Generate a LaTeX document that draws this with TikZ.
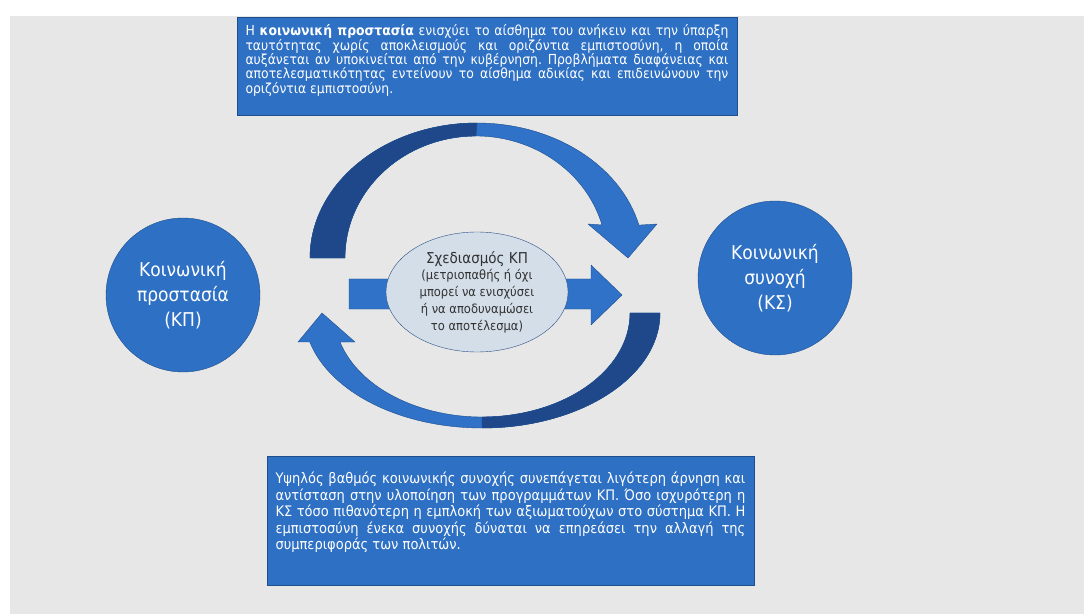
\documentclass[tikz,border=0pt]{standalone}
\usepackage{fontspec}
\setmainfont{DejaVu Sans Condensed}
\usetikzlibrary{shapes}
\definecolor{boxblue}{RGB}{46,112,196}
\definecolor{edgeblue}{RGB}{31,78,140}
\definecolor{darkarc}{RGB}{30,72,138}
\definecolor{lightarc}{RGB}{47,114,200}
\definecolor{panelgray}{RGB}{231,231,231}
\definecolor{ellfill}{RGB}{211,222,232}
\definecolor{ellline}{RGB}{45,80,135}
\definecolor{ink}{RGB}{50,50,50}
\frenchspacing

\begin{document}
\begin{tikzpicture}%[scale=1]
[x=1pt,y=1pt,
    box/.style={rectangle, draw=edgeblue, fill=boxblue, text=white,
    align=justify, line width=0.8pt, inner xsep=8.5pt},
    blob/.style={circle, draw=edgeblue, fill=boxblue, text=white,
    minimum size=154pt, inner sep=0pt, align=center,
    font=\fontsize{19}{25}\selectfont},
    band/.style={draw=edgeblue, line width=0.4pt, line join=round}]
    \tikzstyle{every node}=[font=\fontsize{13.8}{14.3}\selectfont]
    \useasboundingbox (0,0) rectangle (1084,614);
    \fill[white] (0,0) rectangle (1084,614);
    \fill[panelgray] (10,0) rectangle (1084,598);
    % upper loop
    \filldraw[band, fill=lightarc] (310,356)
        arc[start angle=180, end angle=14.1, x radius=167, y radius=135]
        -- (657,390) -- (628,356) -- (588,390) -- (602,389)
        arc[start angle=15.7, end angle=180, x radius=131, y radius=122] -- cycle;
    \filldraw[band, fill=darkarc] (310,356)
        arc[start angle=180, end angle=90, x radius=167, y radius=135]
        -- (476,478)
        arc[start angle=90, end angle=180, x radius=131, y radius=122] -- cycle;
    % lower loop
    \filldraw[band, fill=lightarc] (660,301)
        arc[start angle=0, end angle=-165.4, x radius=178, y radius=115]
        -- (298,272) -- (322,301) -- (355,272) -- (340,272)
        arc[start angle=-163.8, end angle=0, x radius=148, y radius=104] -- cycle;
    \filldraw[band, fill=darkarc] (660,301)
        arc[start angle=0, end angle=-90, x radius=178, y radius=115]
        -- (482,197)
        arc[start angle=-90, end angle=0, x radius=148, y radius=104] -- cycle;
    % straight arrow
    \filldraw[band, fill=lightarc] (349,305) -- (591,305) -- (591,289)
        -- (622,319) -- (591,349) -- (591,335) -- (349,335) -- cycle;
    \node[ellipse, draw=ellline, fill=ellfill, minimum width=182pt,
        minimum height=120pt, inner sep=-6pt, text=ink, align=center,
        font=\fontsize{12.8}{16.8}\selectfont] (sx) at (477,322)
        {{\fontsize{15}{16.8}\selectfont Σχεδιασμός ΚΠ}\\(μετριοπαθής ή όχι\\
        μπορεί να ενισχύσει\\ή να αποδυναμώσει\\το αποτέλεσμα)};
    \node[blob] (kp) at (183,319) {Κοινωνική\\προστασία\\(ΚΠ)};
    \node[blob] (ks) at (775,336) {Κοινωνική\\συνοχή\\(ΚΣ)};
    \node[box, text width=483pt, minimum height=98pt] (t) at (487,548)
        {Η \textbf{κοινωνική προστασία} ενισχύει το αίσθημα του ανήκειν και την ύπαρξη\linebreak
        ταυτότητας χωρίς αποκλεισμούς και οριζόντια εμπιστοσύνη, η οποία\linebreak
        αυξάνεται αν υποκινείται από την κυβέρνηση. Προβλήματα διαφάνειας και\linebreak
        αποτελεσματικότητας εντείνουν το αίσθημα αδικίας και επιδεινώνουν την\linebreak
        οριζόντια εμπιστοσύνη.\rule[-14pt]{0pt}{14pt}};
    \node[box, text width=470pt, minimum height=129pt,
        font=\fontsize{14.5}{16.5}\selectfont] (b) at (510.5,93.5)
        {Υψηλός βαθμός κοινωνικής συνοχής συνεπάγεται λιγότερη άρνηση και\linebreak
        αντίσταση στην υλοποίηση των προγραμμάτων ΚΠ. Όσο ισχυρότερη η\linebreak
        ΚΣ τόσο πιθανότερη η εμπλοκή των αξιωματούχων στο σύστημα ΚΠ. Η\linebreak
        εμπιστοσύνη ένεκα συνοχής δύναται να επηρεάσει την αλλαγή της\linebreak
        συμπεριφοράς των πολιτών.\rule[-19pt]{0pt}{19pt}};
\end{tikzpicture}
\end{document}
